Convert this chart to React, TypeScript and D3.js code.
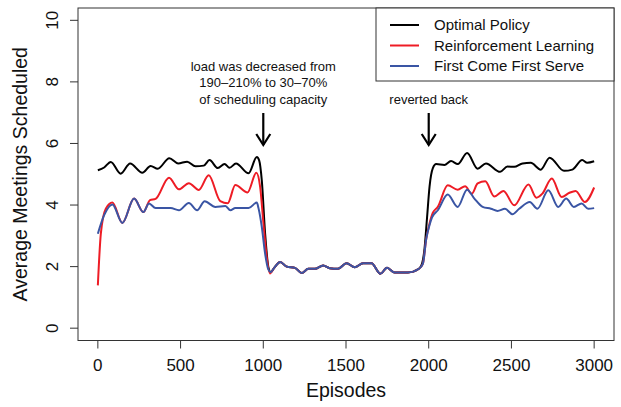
import React from "react";
import * as d3 from "d3";

const W = 621;
const H = 407;

// Optimal Policy (black)
const optEpisodes = [0, 38, 78, 138, 195, 269, 319, 362, 432, 485, 540, 590, 640, 675, 725, 766, 796, 835, 911, 961, 975, 991, 1011, 1031, 1045];
const optValues = [5.13, 5.22, 5.4, 5.02, 5.35, 5.05, 5.27, 5.18, 5.52, 5.35, 5.41, 5.26, 5.28, 5.46, 5.2, 5.33, 5.21, 5.35, 5.03, 5.56, 5.45, 4.8, 3.08, 1.98, 1.82];
const optRiseEpisodes = [1960, 1975, 1990, 2005, 2025, 2045, 2095, 2135, 2176, 2232, 2296, 2346, 2432, 2476, 2517, 2567, 2617, 2677, 2731, 2818, 2868, 2928, 2958, 3000];
const optRiseValues = [2.1, 2.6, 3.6, 4.6, 5.2, 5.33, 5.3, 5.43, 5.33, 5.69, 5.18, 5.35, 5.08, 5.25, 5.24, 5.35, 5.37, 5.15, 5.54, 5.11, 5.15, 5.46, 5.37, 5.42];

// Reinforcement Learning (red)
const rlEpisodes = [0, 18, 48, 88, 148, 219, 275, 315, 349, 430, 490, 550, 610, 670, 740, 785, 831, 905, 958, 981, 1001, 1021, 1040];
const rlValues = [1.39, 3.07, 3.88, 4.08, 3.42, 4.21, 3.77, 4.16, 4.2, 4.89, 4.51, 4.71, 4.49, 4.97, 4.13, 4.06, 4.65, 4.41, 5.05, 4.59, 3.4, 2.3, 1.78];
const rlRiseEpisodes = [1965, 1985, 2005, 2025, 2055, 2115, 2175, 2220, 2260, 2296, 2342, 2396, 2452, 2517, 2603, 2651, 2687, 2744, 2804, 2848, 2888, 2944, 3000];
const rlRiseValues = [2.1, 2.9, 3.4, 3.75, 3.94, 4.64, 4.5, 4.61, 4.37, 4.7, 4.77, 4.28, 4.46, 3.99, 4.67, 4.24, 4.37, 4.86, 4.26, 4.39, 4.46, 4.1, 4.57];

// First Come First Serve (blue)
const fcfsEpisodes = [0, 38, 88, 148, 219, 275, 309, 349, 440, 490, 550, 600, 646, 710, 771, 801, 831, 911, 961, 971, 991, 1011, 1031, 1045];
const fcfsValues = [3.07, 3.67, 4.02, 3.42, 4.21, 3.77, 4.05, 3.9, 3.9, 3.83, 4.07, 3.83, 4.12, 3.94, 3.97, 3.83, 3.9, 3.9, 4.08, 3.9, 3.29, 2.42, 1.9, 1.82];
const fcfsRiseEpisodes = [1965, 1985, 2005, 2020, 2055, 2115, 2175, 2232, 2276, 2326, 2376, 2416, 2461, 2506, 2547, 2611, 2657, 2723, 2783, 2831, 2877, 2924, 2964, 3000];
const fcfsRiseValues = [2.1, 2.9, 3.35, 3.6, 3.83, 4.34, 3.94, 4.5, 4.21, 3.94, 3.88, 3.81, 3.88, 3.7, 3.88, 4.1, 3.88, 4.48, 3.94, 4.21, 3.94, 4.05, 3.88, 3.9];

// Low-load phase (all three coincide)
const lowEpisodes = [1065, 1102, 1142, 1192, 1232, 1272, 1312, 1362, 1402, 1452, 1503, 1553, 1603, 1654, 1708, 1748, 1794, 1874, 1941];
const lowValues = [1.95, 2.15, 2.0, 1.96, 1.79, 1.93, 1.93, 2.04, 1.95, 1.93, 2.11, 1.98, 2.11, 2.11, 1.77, 1.96, 1.81, 1.81, 1.93];

const xTicks = [0, 500, 1000, 1500, 2000, 2500, 3000];
const yTicks = [0, 2, 4, 6, 8, 10];

const seriesNames = ["Optimal Policy", "Reinforcement Learning", "First Come First Serve"];
const seriesColors = ["#000000", "#ee1c25", "#3a55a4"];

const annotationLines = ["load was decreased from", "190\u2013210% to 30\u201370%", "of scheduling capacity"];
const annotationEpisode = 1000;
const revertLabel = "reverted back";
const revertEpisode = 2000;

const FONT = "'Liberation Sans', Arial, Helvetica, sans-serif";

function build(ep1: number[], v1: number[], ep2: number[], v2: number[]) {
  const pts: [number, number][] = [];
  ep1.forEach((e, i) => pts.push([e, v1[i]]));
  lowEpisodes.forEach((e, i) => pts.push([e, lowValues[i]]));
  ep2.forEach((e, i) => pts.push([e, v2[i]]));
  return pts;
}

export default function App() {
  const left = 78, right = 614, top = 8, bottom = 340.5;
  const x = d3.scaleLinear().domain([-120, 3120]).range([left, right]);
  const y = d3.scaleLinear().domain([-0.4, 10.4]).range([bottom, top]);

  const line = d3
    .line<[number, number]>()
    .x((d) => x(d[0]))
    .y((d) => y(d[1]))
    .curve(d3.curveMonotoneX);

  const series = [
    build(optEpisodes, optValues, optRiseEpisodes, optRiseValues),
    build(rlEpisodes, rlValues, rlRiseEpisodes, rlRiseValues),
    build(fcfsEpisodes, fcfsValues, fcfsRiseEpisodes, fcfsRiseValues),
  ];

  const arrow = (ex: number) => {
    const ax = x(ex);
    const y0 = 113, y1 = 145;
    return (
      <g stroke="#000" strokeWidth={2.2} fill="none">
        <line x1={ax} y1={y0} x2={ax} y2={y1} />
        <polyline points={`${ax - 7},${y1 - 11} ${ax},${y1} ${ax + 7},${y1 - 11}`} />
      </g>
    );
  };

  const legX = 376, legY = 8, legW = 238, legH = 73;

  return (
    <svg
      width={W}
      height={H}
      style={{ position: "absolute", left: 0, top: 0, background: "#fff" }}
      fontFamily={FONT}
    >
      <rect x={0} y={0} width={W} height={H} fill="#fff" />
      {/* lines */}
      {series.map((s, i) => (
        <path key={i} d={line(s) || ""} fill="none" stroke={seriesColors[i]} strokeWidth={2} strokeLinejoin="round" />
      ))}
      {/* box */}
      <rect x={left} y={top} width={right - left} height={bottom - top} fill="none" stroke="#333" strokeWidth={1} />
      {/* x axis */}
      {xTicks.map((t) => (
        <g key={t}>
          <line x1={x(t)} x2={x(t)} y1={bottom} y2={bottom + 8} stroke="#333" />
          <text x={x(t)} y={371} textAnchor="middle" fontSize={17} fill="#111">
            {t}
          </text>
        </g>
      ))}
      {/* y axis */}
      {yTicks.map((t) => (
        <g key={t}>
          <line x1={left - 8} x2={left} y1={y(t)} y2={y(t)} stroke="#333" />
          <text
            transform={`translate(58,${y(t)}) rotate(-90)`}
            textAnchor="middle"
            fontSize={17}
            fill="#111"
          >
            {t}
          </text>
        </g>
      ))}
      <text x={(left + right) / 2} y={397} textAnchor="middle" fontSize={19.5} fill="#111">
        Episodes
      </text>
      <text
        transform={`translate(27,${(top + bottom) / 2}) rotate(-90)`}
        textAnchor="middle"
        fontSize={19.5}
        fill="#111"
      >
        Average Meetings Scheduled
      </text>
      {/* annotations */}
      {annotationLines.map((t, i) => (
        <text key={i} x={x(annotationEpisode)} y={71 + i * 16.3} textAnchor="middle" fontSize={13} fill="#111">
          {t}
        </text>
      ))}
      {arrow(annotationEpisode)}
      <text x={x(revertEpisode)} y={103.6} textAnchor="middle" fontSize={13} fill="#111">
        {revertLabel}
      </text>
      {arrow(revertEpisode)}
      {/* legend */}
      <rect x={legX} y={legY} width={legW} height={legH} fill="#fff" stroke="#333" strokeWidth={1} />
      {seriesNames.map((n, i) => {
        const ly = 25 + i * 20.5;
        return (
          <g key={n}>
            <line x1={390} x2={419} y1={ly} y2={ly} stroke={seriesColors[i]} strokeWidth={2} />
            <text x={434} y={ly + 5} fontSize={15} fill="#111">
              {n}
            </text>
          </g>
        );
      })}
    </svg>
  );
}
